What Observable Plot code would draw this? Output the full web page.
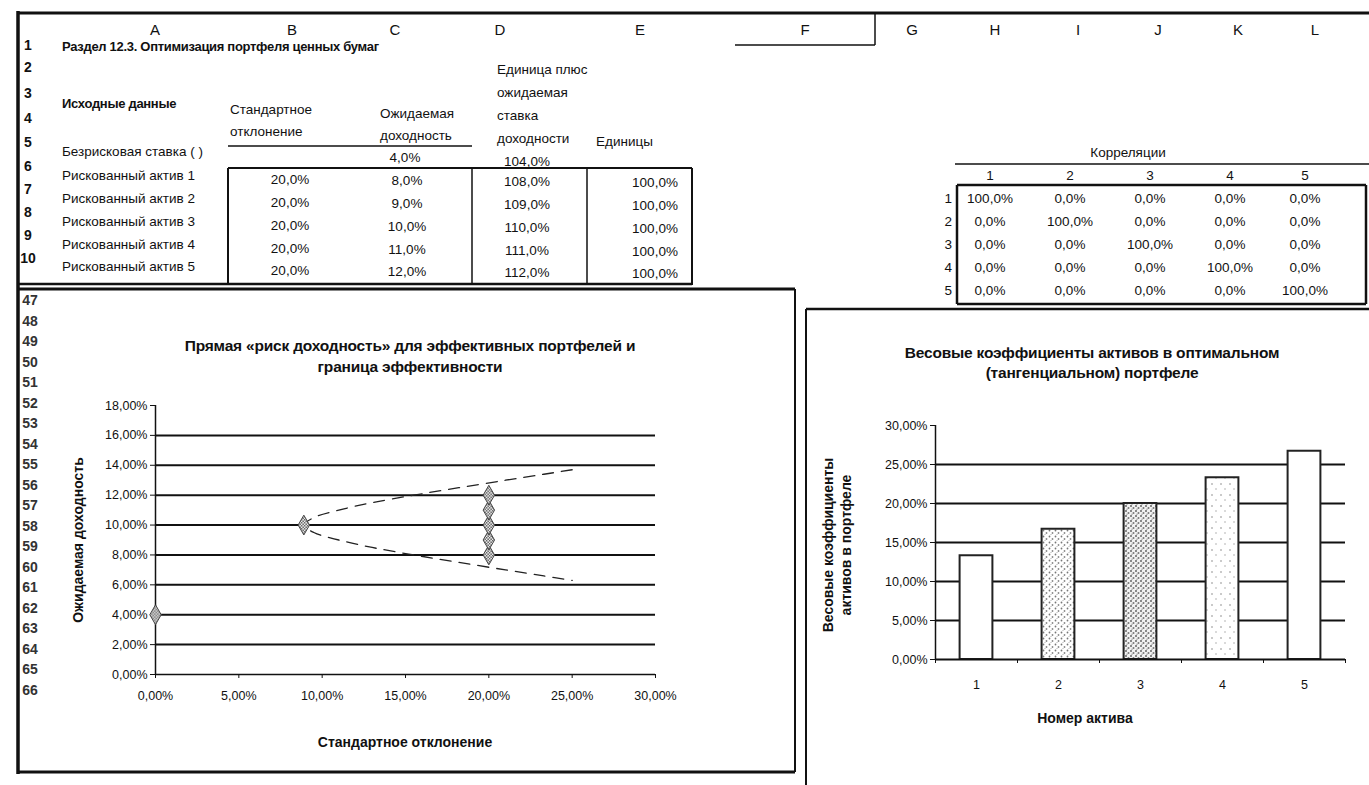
<!DOCTYPE html>
<html lang="ru">
<head>
<meta charset="utf-8">
<script src="https://cdn.jsdelivr.net/npm/d3@7"></script>
<script src="https://cdn.jsdelivr.net/npm/@observablehq/plot@0.6"></script>
<style>
  html, body { margin: 0; padding: 0; background: #fff; }
  #page { position: relative; width: 1369px; height: 785px; overflow: hidden;
          font-family: "Liberation Sans", Arial, sans-serif; color: #111; }
  .t { position: absolute; white-space: nowrap; line-height: 1; }
  .chart { position: absolute; }
  #frame { position: absolute; left: 0; top: 0; }
</style>
</head>
<body>
<div id="page">
  <svg id="frame" width="1369" height="785"></svg>
  <svg width="0" height="0" style="position:absolute">
    <defs>
      <pattern id="checker" width="3" height="3" patternUnits="userSpaceOnUse">
        <rect width="3" height="3" fill="#fff"/>
        <rect width="1.5" height="1.5" fill="#555"/>
        <rect x="1.5" y="1.5" width="1.5" height="1.5" fill="#555"/>
      </pattern>
      <pattern id="speckleLight" width="9" height="11" patternUnits="userSpaceOnUse">
        <rect width="9" height="11" fill="#fff"/>
        <circle cx="2" cy="3" r="0.8" fill="#888"/>
        <circle cx="6" cy="8" r="0.7" fill="#999"/>
      </pattern>
      <pattern id="speckleMid" width="6" height="6" patternUnits="userSpaceOnUse">
        <rect width="6" height="6" fill="#fff"/>
        <circle cx="1.5" cy="1.5" r="0.9" fill="#777"/>
        <circle cx="4.5" cy="4" r="0.9" fill="#888"/>
        <circle cx="3" cy="5.5" r="0.5" fill="#999"/>
      </pattern>
      <pattern id="speckleDark" width="5" height="5" patternUnits="userSpaceOnUse">
        <rect width="5" height="5" fill="#f2f2f2"/>
        <circle cx="1" cy="1" r="1" fill="#666"/>
        <circle cx="3.5" cy="3" r="1" fill="#777"/>
        <circle cx="2" cy="4.2" r="0.6" fill="#888"/>
      </pattern>
    </defs>
  </svg>
</div>
<script>
// ---- Source data -------------------------------------------------------
const columnLetters = ["A", "B", "C", "D", "E", "F", "G", "H", "I", "J", "K", "L"];
const sheetRows = [1, 2, 3, 4, 5, 6, 7, 8, 9, 10];
const chartRows = [47, 48, 49, 50, 51, 52, 53, 54, 55, 56, 57, 58, 59, 60, 61, 62, 63, 64, 65, 66];

const sectionTitle = "Раздел 12.3. Оптимизация портфеля ценных бумаг";
const inputsLabel = "Исходные данные";
const riskFreeLabel = "Безрисковая ставка ( )";
const assetNames = ["Рискованный актив 1", "Рискованный актив 2", "Рискованный актив 3",
                    "Рискованный актив 4", "Рискованный актив 5"];
const assetStd = [20.0, 20.0, 20.0, 20.0, 20.0];        // %
const assetReturn = [8.0, 9.0, 10.0, 11.0, 12.0];       // %
const assetGross = [108.0, 109.0, 110.0, 111.0, 112.0]; // %
const assetUnits = [100.0, 100.0, 100.0, 100.0, 100.0]; // %
const riskFreeReturn = 4.0;
const riskFreeGross = 104.0;

const correlationTitle = "Корреляции";
const correlations = [
  [100.0, 0.0, 0.0, 0.0, 0.0],
  [0.0, 100.0, 0.0, 0.0, 0.0],
  [0.0, 0.0, 100.0, 0.0, 0.0],
  [0.0, 0.0, 0.0, 100.0, 0.0],
  [0.0, 0.0, 0.0, 0.0, 100.0]
];

// Efficient frontier (dashed curve), std and return in %
const frontierStd    = [25.0, 23.3, 21.0, 18.2, 15.5, 13.0, 11.0, 9.5, 8.9, 9.5, 11.0, 13.0, 15.5, 18.2, 21.0, 23.3, 25.0];
const frontierReturn = [13.7, 13.4, 13.0, 12.5, 12.0, 11.5, 11.0, 10.5, 10.0, 9.5, 9.0, 8.5, 8.0, 7.5, 7.0, 6.6, 6.3];
const minVarStd = 8.9;
const minVarReturn = 10.0;
const stdTicks = [0, 5, 10, 15, 20, 25, 30];
const returnTicks = [0, 2, 4, 6, 8, 10, 12, 14, 16, 18];

// Tangency portfolio weights, %
const assetNumbers = [1, 2, 3, 4, 5];
const tangentWeights = [13.3, 16.7, 20.0, 23.3, 26.7];
const weightTicks = [0, 5, 10, 15, 20, 25, 30];

const scatterTitle = ["Прямая «риск доходность» для эффективных портфелей и", "граница эффективности"];
const scatterX = "Стандартное отклонение";
const scatterY = "Ожидаемая доходность";
const barTitle = ["Весовые коэффициенты активов в оптимальном", "(тангенциальном) портфеле"];
const barX = "Номер актива";
const barY = ["Весовые коэффициенты", "активов в портфеле"];

// ---- Helpers -----------------------------------------------------------
const page = document.getElementById("page");
const frame = d3.select("#frame");
const FONT = "'Liberation Sans', Arial, sans-serif";

function put(text, x, y, o = {}) {
  const el = document.createElement("div");
  el.className = "t";
  el.textContent = text;
  const tx = o.align === "l" ? "0" : o.align === "r" ? "-100%" : "-50%";
  el.style.left = x + "px";
  el.style.top = y + "px";
  el.style.transform = `translate(${tx},-50%)` + (o.rotate ? ` rotate(${o.rotate}deg)` : "");
  el.style.fontSize = (o.size || 13.5) + "px";
  el.style.fontWeight = o.bold ? "bold" : "normal";
  if (o.color) el.style.color = o.color;
  if (o.spacing) el.style.letterSpacing = o.spacing + "px";
  page.appendChild(el);
  return el;
}
function seg(x1, y1, x2, y2, w = 1.5) {
  frame.append("line").attr("x1", x1).attr("y1", y1).attr("x2", x2).attr("y2", y2)
    .attr("stroke", "#111").attr("stroke-width", w);
}
const pct1 = v => v.toFixed(1).replace(".", ",") + "%";
const pct2 = v => v.toFixed(2).replace(".", ",") + "%";

// ---- Sheet frame -------------------------------------------------------
seg(18, 13, 1369, 13, 3);          // top edge of the sheet
seg(18, 11, 18, 774, 3.5);         // left edge
seg(735, 45, 875, 45, 1.5);        // selected cell F
seg(875, 13, 875, 45, 1.5);

// column letters
const letterX = [155, 292, 395, 500, 640, 805, 912, 995, 1078, 1158, 1238, 1315];
columnLetters.forEach((c, i) => put(c, letterX[i], 29, {size: 15}));

// row headers
const rowY = [45, 67, 93, 118, 142, 166, 189, 212, 235, 258];
sheetRows.forEach((r, i) => put(String(r), 28, rowY[i], {size: 14, bold: true}));
chartRows.forEach((r, i) => put(String(r), 30, 300 + i * 20.5, {size: 14, bold: true, color: "#333"}));

// ---- Input table -------------------------------------------------------
put(sectionTitle, 62, 46, {align: "l", bold: true, size: 13, spacing: -0.3});
put(inputsLabel, 62, 103, {align: "l", bold: true, size: 13, spacing: -0.3});
put("Стандартное", 230, 110, {align: "l"});
put("отклонение", 230, 132, {align: "l"});
put("Ожидаемая", 380, 114, {align: "l"});
put("доходность", 380, 136, {align: "l"});
["Единица плюс", "ожидаемая", "ставка", "доходности"].forEach((s, i) =>
  put(s, 497, 70 + i * 23, {align: "l"}));
put("Единицы", 596, 142, {align: "l"});
seg(228, 146, 472, 146, 1.5);

put(riskFreeLabel, 62, 152, {align: "l"});
put(pct1(riskFreeReturn), 405, 158);
put(pct1(riskFreeGross), 527, 162);

const assetY = [180, 203, 226, 249, 271];
assetNames.forEach((n, i) => {
  put(n, 62, assetY[i] - 4, {align: "l"});
  put(pct1(assetStd[i]), 290, assetY[i]);
  put(pct1(assetReturn[i]), 407, assetY[i] + 1);
  put(pct1(assetGross[i]), 527, assetY[i] + 2);
  put(pct1(assetUnits[i]), 655, assetY[i] + 3);
});
seg(228, 168, 692, 168, 2);
seg(228, 168, 228, 285, 2);
seg(472, 168, 472, 285, 1.5);
seg(587, 168, 587, 285, 1.5);
seg(692, 168, 692, 285, 2);
seg(18, 284, 692, 284, 2.5);

// ---- Correlation matrix ------------------------------------------------
const corrX = [990, 1070, 1150, 1230, 1305];
const corrY = [199, 222, 245, 268, 291];
put(correlationTitle, 1128, 153);
seg(955, 164, 1369, 164, 1.5);
assetNumbers.forEach((n, j) => put(String(n), corrX[j], 176));
assetNumbers.forEach((n, i) => put(String(n), 952, corrY[i], {align: "r"}));
correlations.forEach((row, i) => row.forEach((v, j) => put(pct1(v), corrX[j], corrY[i])));
seg(957, 185, 1366, 185, 2.5);
seg(957, 185, 957, 304, 2.5);
seg(1366, 185, 1366, 304, 2.5);
seg(957, 304, 1366, 304, 2.5);

// ---- Chart panels ------------------------------------------------------
seg(18, 289, 795, 289, 3);
seg(18, 772, 795, 772, 3);
seg(795, 289, 795, 772, 2);
seg(806, 309, 806, 785, 2);
seg(806, 309, 1369, 309, 2.5);

// ---- Scatter: risk–return line and efficient frontier -------------------
scatterTitle.forEach((s, i) => put(s, 410, 346 + i * 21, {bold: true, size: 15.5, spacing: -0.2}));
put(scatterX, 405, 742, {bold: true, size: 14});
put(scatterY, 78, 540, {bold: true, size: 14, rotate: -90});

const frontier = frontierStd.map((s, i) => ({std: s, ret: frontierReturn[i]}));
const scatterPoints = [
  {std: 0, ret: riskFreeReturn},
  {std: minVarStd, ret: minVarReturn},
  ...assetStd.map((s, i) => ({std: s, ret: assetReturn[i]}))
];
const gridReturns = returnTicks.filter(v => v > 0 && v < d3.max(returnTicks));

const scatter = Plot.plot({
  width: 620, height: 312,
  marginLeft: 95, marginRight: 25, marginTop: 10, marginBottom: 33,
  x: {domain: [d3.min(stdTicks), d3.max(stdTicks)]},
  y: {domain: [d3.min(returnTicks), d3.max(returnTicks)]},
  style: {fontFamily: FONT, fontSize: "12.5px", color: "#111", background: "transparent", overflow: "visible"},
  marks: [
    Plot.ruleY(gridReturns, {x1: 0, x2: 30, stroke: "#111", strokeWidth: 2}),
    Plot.ruleY([0], {x1: 0, x2: 30, stroke: "#111", strokeWidth: 1.5}),
    Plot.ruleX([0], {y1: 0, y2: 18, stroke: "#111", strokeWidth: 1.5}),
    Plot.axisY({ticks: returnTicks, tickFormat: pct2, tickSize: 5, tickPadding: 3, label: null, stroke: "#111"}),
    Plot.axisX({ticks: stdTicks, tickFormat: pct2, tickSize: 4, tickPadding: 13, label: null, stroke: "#111"}),
    Plot.line(frontier, {x: "std", y: "ret", curve: "catmull-rom", stroke: "#222",
                         strokeWidth: 1.3, strokeDasharray: "11,8"}),
    Plot.dot(scatterPoints, {x: "std", y: "ret", symbol: "diamond", r: 6,
                             fill: "url(#checker)", stroke: "#444", strokeWidth: 1})
  ]
});
scatter.classList.add("chart");
scatter.style.left = "60px";
scatter.style.top = "395px";
page.appendChild(scatter);

// ---- Bars: weights of the tangency portfolio ---------------------------
barTitle.forEach((s, i) => put(s, 1092, 353 + i * 20, {bold: true, size: 15.5, spacing: -0.2}));
put(barX, 1085, 718, {bold: true, size: 14});
barY.forEach((s, i) => put(s, 828 + i * 18, 545, {bold: true, size: 14, rotate: -90}));

const weights = assetNumbers.map((n, i) => ({asset: n, weight: tangentWeights[i]}));
const barFills = ["#fff", "url(#speckleMid)", "url(#speckleDark)", "url(#speckleLight)", "#fff"];
const halfBar = 0.2;
const xLo = d3.min(assetNumbers) - 0.5, xHi = d3.max(assetNumbers) + 0.5;
const gridWeights = weightTicks.filter(v => v > 0 && v < d3.max(weightTicks));

const bars = Plot.plot({
  width: 510, height: 284,
  marginLeft: 85, marginRight: 15, marginTop: 10, marginBottom: 40,
  x: {domain: [xLo, xHi]},
  y: {domain: [d3.min(weightTicks), d3.max(weightTicks)]},
  style: {fontFamily: FONT, fontSize: "12.5px", color: "#111", background: "transparent", overflow: "visible"},
  marks: [
    Plot.ruleY(gridWeights, {x1: xLo, x2: xHi, stroke: "#111", strokeWidth: 2}),
    ...weights.map((d, i) => Plot.rectY([d], {
      x1: e => e.asset - halfBar, x2: e => e.asset + halfBar, y1: 0, y2: "weight",
      fill: barFills[i], stroke: "#222", strokeWidth: 2
    })),
    Plot.ruleY([0], {x1: xLo, x2: xHi, stroke: "#111", strokeWidth: 2}),
    Plot.ruleX([xLo], {y1: 0, y2: 30, stroke: "#111", strokeWidth: 1.5}),
    Plot.axisY({ticks: weightTicks, tickFormat: pct2, tickSize: 5, tickPadding: 3, label: null, stroke: "#111"}),
    Plot.axisX({ticks: d3.range(xLo, xHi + 0.01, 1), tickFormat: () => "", tickSize: 4, label: null, stroke: "#111"}),
    Plot.axisX({ticks: assetNumbers, tickFormat: d => String(d), tickSize: 0, tickPadding: 21, label: null})
  ]
});
bars.classList.add("chart");
bars.style.left = "850px";
bars.style.top = "415px";
page.appendChild(bars);
</script>
</body>
</html>
